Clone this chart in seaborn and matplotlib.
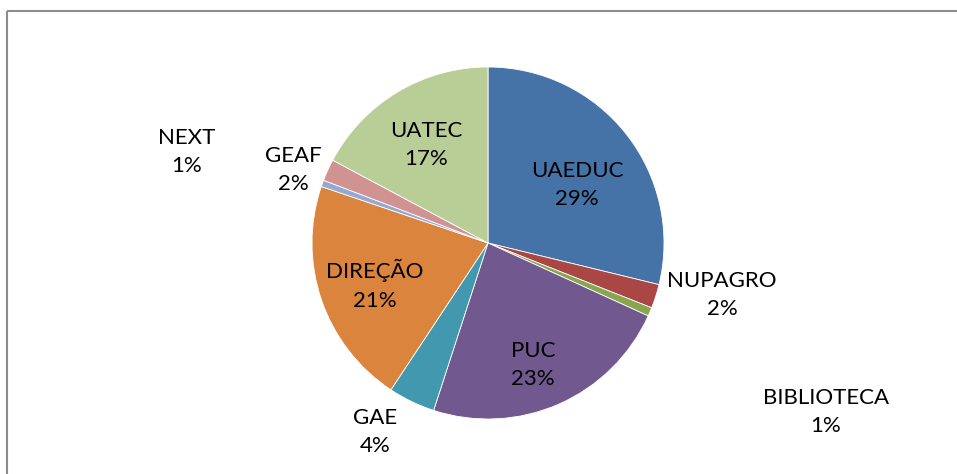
import numpy as np
import matplotlib
matplotlib.use("Agg")
import matplotlib.pyplot as plt
import seaborn as sns

# slice values (percent), clockwise from 12 o'clock
setores = ["UAEDUC", "NUPAGRO", "BIBLIOTECA", "PUC", "GAE", "DIREÇÃO", "NEXT", "GEAF", "UATEC"]
valores = [28.8, 2.2, 0.8, 23.2, 4.3, 20.9, 0.6, 2.0, 17.2]

cores = ["#4573A7", "#AA4643", "#89A54E", "#71588F", "#4198AF",
         "#DB843D", "#93A9CF", "#D19392", "#B9CD96"]

# label centres in pixel coords of the 957x474 image
pos_rotulos = [(577, 185), (722, 295), (826, 412), (533, 365), (375, 432),
               (375, 285), (187, 152), (293, 170), (426, 145)]

sns.set_style("white")
plt.rcParams['font.family'] = ['Lato', 'DejaVu Sans']

W, H = 957, 474
fig = plt.figure(figsize=(W / 100, H / 100), dpi=100)

# frame around chart area (only top/left visible in the original crop)
bg = fig.add_axes([0, 0, 1, 1])
bg.set_xlim(0, W)
bg.set_ylim(H, 0)
bg.axis("off")
bg.add_patch(plt.Rectangle((6.5, 10.5), 960, 480, fill=False,
                           edgecolor="#8c8c8c", linewidth=1.5))

cx, cy, r = 488, 243, 176
ax = fig.add_axes([(cx - r) / W, (H - cy - r) / H, 2 * r / W, 2 * r / H])
ax.pie(valores, colors=cores, startangle=90, counterclock=False,
       wedgeprops=dict(linewidth=0.6, edgecolor="white"))
ax.set_xlim(-1, 1)
ax.set_ylim(-1, 1)
ax.set_aspect("equal")
ax.axis("off")

total = sum(valores)
for nome, v, (px, py) in zip(setores, valores, pos_rotulos):
    pct = int(round(v / total * 100))
    ax.text((px - cx) / r, (cy - py) / r, f"{nome}\n{pct}%", ha="center",
            va="center", fontsize=16, color="black", linespacing=1.55,
            clip_on=False)

plt.savefig("out.png", dpi=100)
